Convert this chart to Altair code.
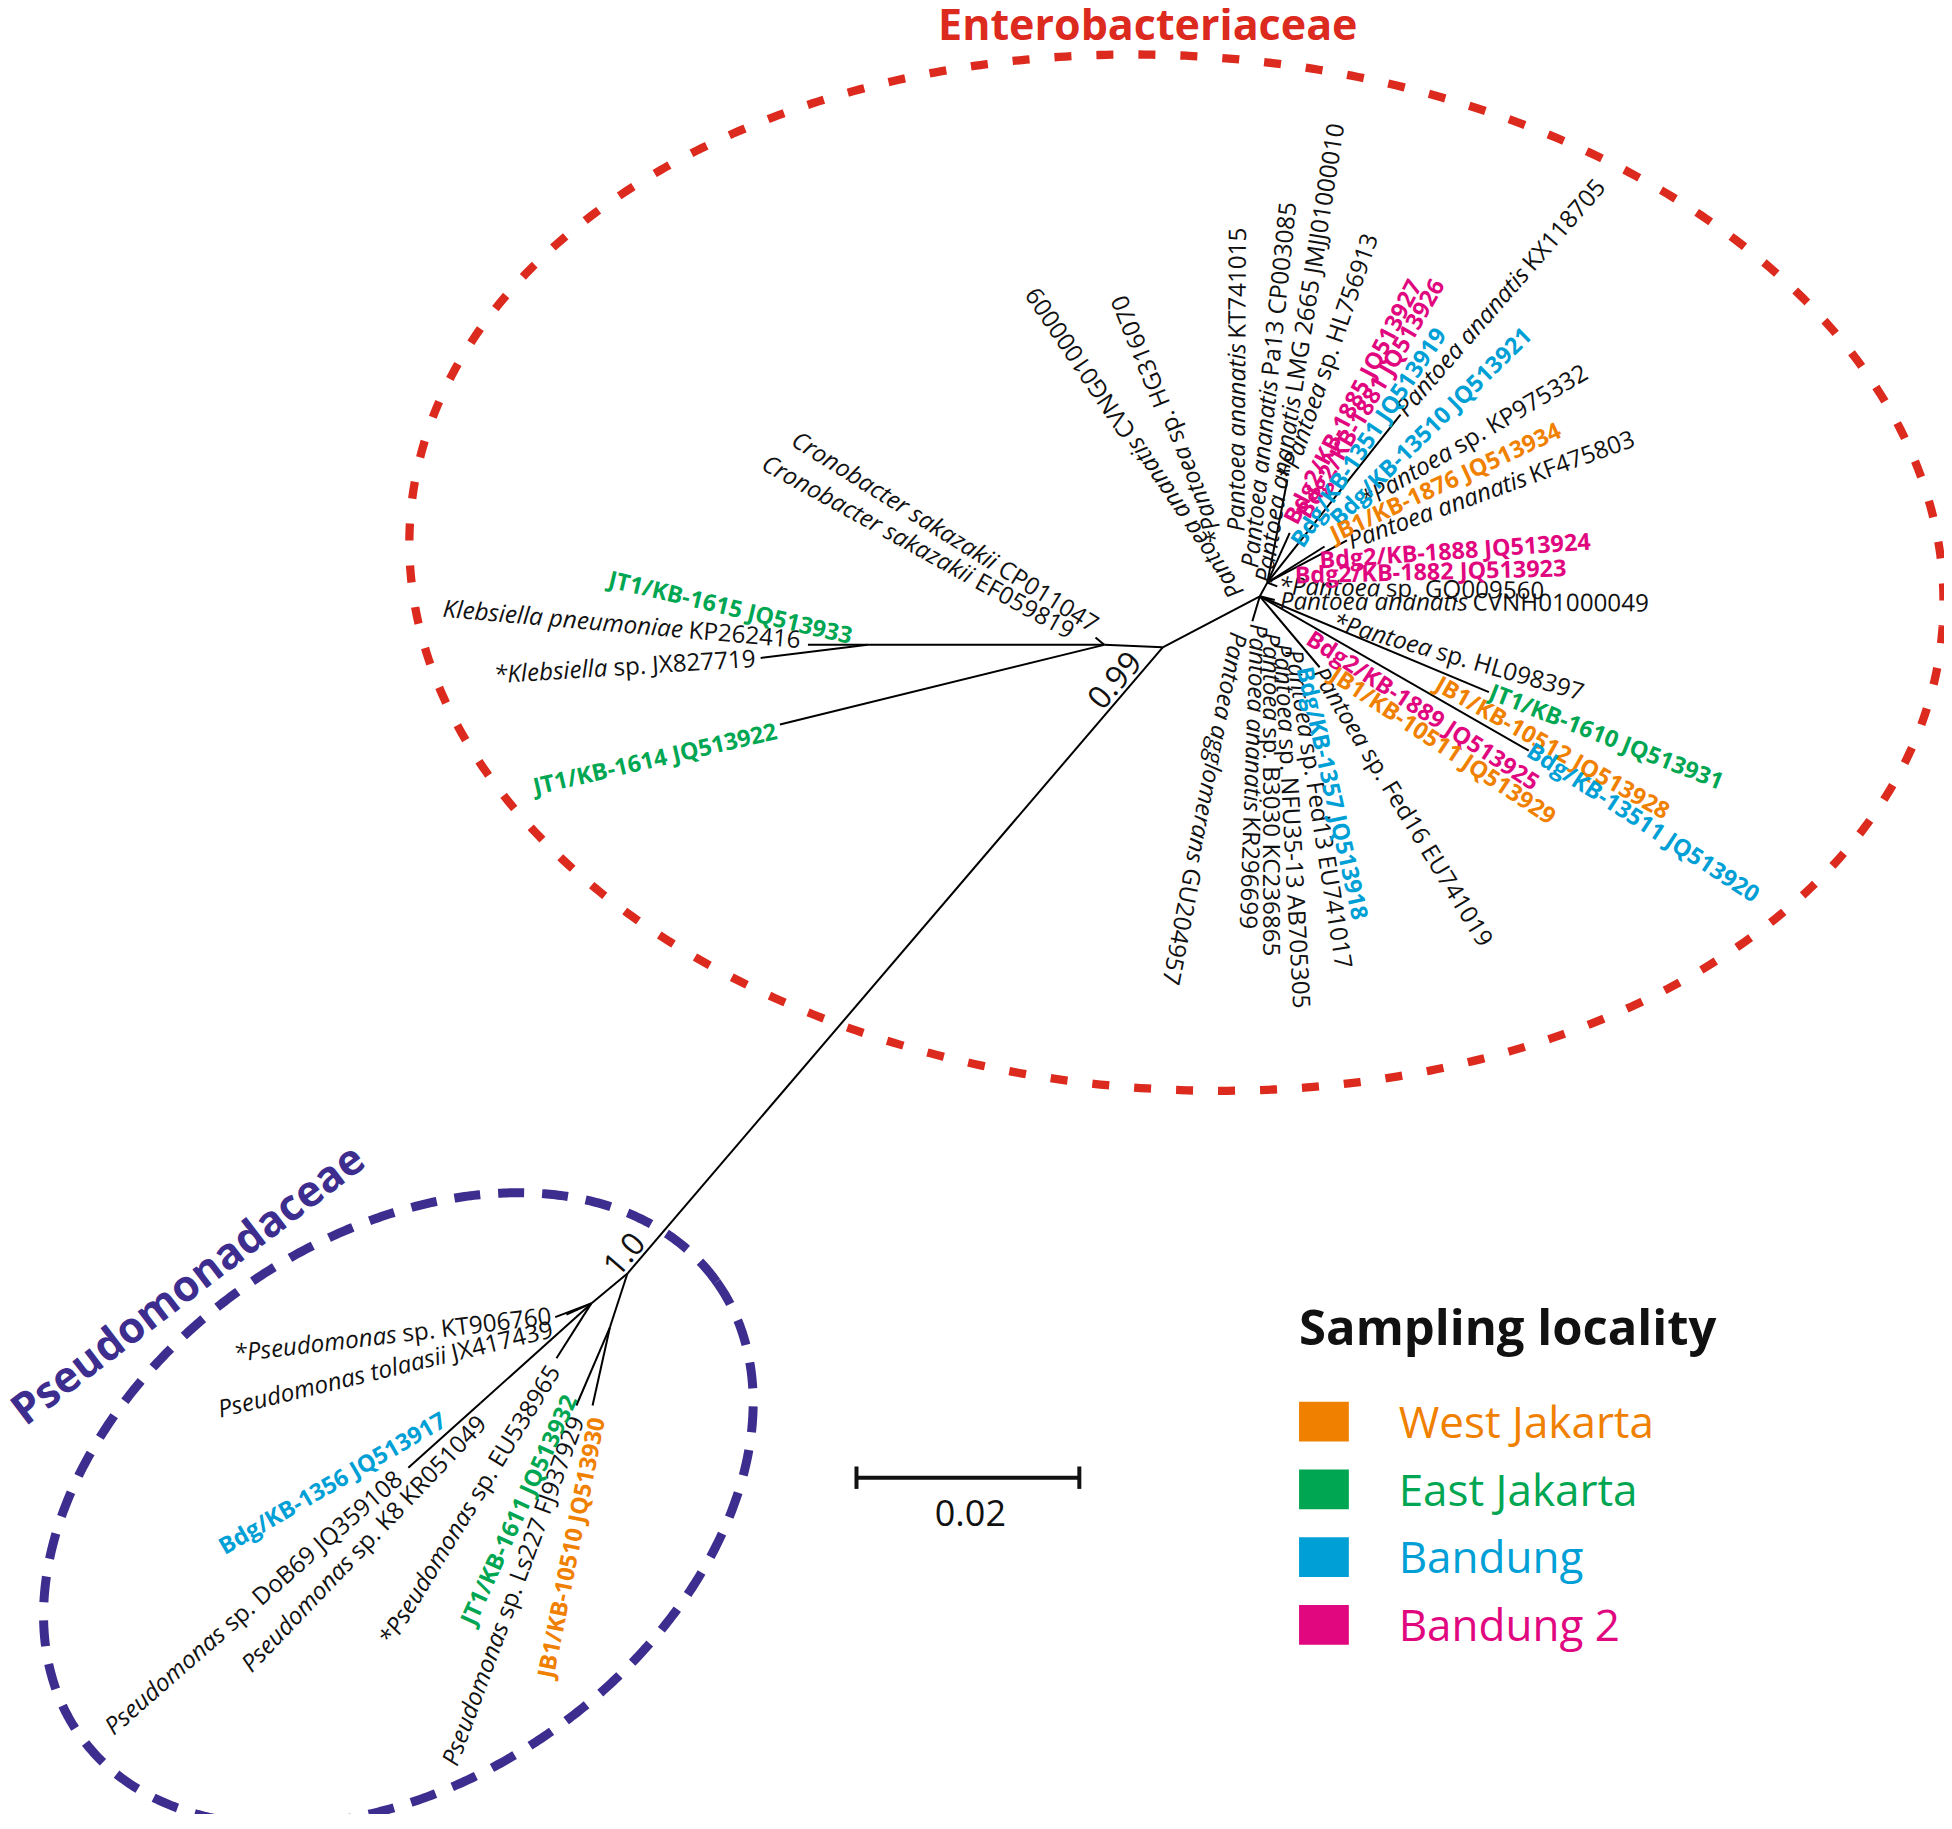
import math
import altair as alt
import numpy as np
import pandas as pd

# ------------------------------------------------------------------
# Data (coordinates in reference units, 1568-wide)
# ------------------------------------------------------------------
node_id = ["N1", "K", "K2", "H", "U", "P0", "P1", "PF", "P2",
           "tCrono", "tKpneu", "tKsp", "tJT1614",
           "tHL756913", "t1885", "tKX118705", "tKF475803", "t1888", "tGQ", "tCVNH",
           "tJT1610", "t13511", "tFed16", "tKR",
           "tKT906760", "tTol", "tDoB69", "tEU538965", "tFJ937929", "tJB10510"]
node_x = [934, 887, 697, 1012, 1018, 504, 475, 386, 490,
          880, 649, 611, 626.5,
          1034, 1036, 1125, 1082, 1064, 1026, 1024,
          1196, 1228, 1060, 1006,
          446, 455, 328, 447, 463, 476]
node_y = [520, 518, 518, 479, 468, 1023, 1047, 1127, 1066,
          512, 518, 528.5, 582,
          386, 428, 333, 434, 439, 471, 482,
          556, 603, 536, 499,
          1058, 1056, 1179, 1091, 1129, 1129]

edge_from = ["P0", "N1", "N1", "K", "K", "K2", "K2", "K",
             "H", "U", "U", "U", "U", "U", "U",
             "H", "H", "H", "H", "H",
             "P0", "P1", "P1", "P1", "PF", "P1", "P0", "P2", "P2"]
edge_to = ["N1", "K", "H", "tCrono", "K2", "tKpneu", "tKsp", "tJT1614",
           "U", "tHL756913", "t1885", "tKX118705", "tKF475803", "t1888", "tGQ",
           "tCVNH", "tJT1610", "t13511", "tFed16", "tKR",
           "P1", "tKT906760", "tTol", "PF", "tDoB69", "tEU538965", "P2", "tFJ937929", "tJB10510"]

label_text = [
    "Pantoea ananatis CVNG01000009", "*Pantoea sp. HG316070", "Pantoea ananatis KT741015",
    "Pantoea ananatis Pa13 CP003085", "Pantoea ananatis LMG 2665 JMJJ01000010", "*Pantoea sp. HL756913",
    "Bdg2/KB-1885 JQ513927", "Bdg2/KB-1881 JQ513926", "Bdg/KB-1351 JQ513919",
    "Pantoea ananatis KX118705", "Bdg/KB-13510 JQ513921", "*Pantoea sp. KP975332",
    "JB1/KB-1876 JQ513934", "Pantoea ananatis KF475803", "Bdg2/KB-1888 JQ513924",
    "Bdg2/KB-1882 JQ513923", "*Pantoea sp. GQ009560", "Pantoea ananatis CVNH01000049",
    "*Pantoea sp. HL098397", "JT1/KB-1610 JQ513931", "JB1/KB-10512 JQ513928",
    "Bdg/KB-13511 JQ513920", "Bdg2/KB-1889 JQ513925", "JB1/KB-10511 JQ513929",
    "Pantoea sp. Fed16 EU741019", "Bdg/KB-1357 JQ513918", "Pantoea sp. Fed13 EU741017",
    "Pantoea sp. NFU35-13 AB705305", "Pantoea sp. B3030 KC236865", "Pantoea ananatis KR296699",
    "Pantoea agglomerans GU204957",
    "Cronobacter sakazakii CP011047", "Cronobacter sakazakii EF059819", "JT1/KB-1615 JQ513933",
    "Klebsiella pneumoniae KP262416", "*Klebsiella sp. JX827719", "JT1/KB-1614 JQ513922",
    "*Pseudomonas sp. KT906760", "Pseudomonas tolaasii JX417439", "Bdg/KB-1356 JQ513917",
    "Pseudomonas sp. DoB69 JQ359108", "Pseudomonas sp. K8 KR051049", "*Pseudomonas sp. EU538965",
    "JT1/KB-1611 JQ513932", "Pseudomonas sp. Ls227 FJ937929", "JB1/KB-10510 JQ513930",
]
label_italic = [
    "Pantoea ananatis", "*Pantoea", "Pantoea ananatis",
    "Pantoea ananatis", "Pantoea ananatis", "*Pantoea",
    "", "", "",
    "Pantoea ananatis", "", "*Pantoea",
    "", "Pantoea ananatis", "",
    "", "*Pantoea", "Pantoea ananatis",
    "*Pantoea", "", "",
    "", "", "",
    "Pantoea", "", "Pantoea",
    "Pantoea", "Pantoea", "Pantoea ananatis",
    "Pantoea agglomerans",
    "Cronobacter sakazakii", "Cronobacter sakazakii", "",
    "Klebsiella pneumoniae", "*Klebsiella", "",
    "*Pseudomonas", "Pseudomonas tolaasii", "",
    "Pseudomonas", "Pseudomonas", "*Pseudomonas",
    "", "Pseudomonas", "",
]
label_group = [
    "ref", "ref", "ref", "ref", "ref", "ref",
    "bandung2", "bandung2", "bandung",
    "ref", "bandung", "ref",
    "west", "ref", "bandung2",
    "bandung2", "ref", "ref",
    "ref", "east", "west",
    "bandung", "bandung2", "west",
    "ref", "bandung", "ref",
    "ref", "ref", "ref",
    "ref",
    "ref", "ref", "east",
    "ref", "ref", "east",
    "ref", "ref", "bandung",
    "ref", "ref", "ref",
    "east", "ref", "west",
]
label_x = [995, 979, 994, 1005, 1016, 1034,
           1037, 1047, 1042,
           1126, 1072, 1095,
           1070, 1084, 1060,
           1040, 1027, 1028,
           1071, 1197, 1154,
           1228, 1051, 1070,
           1058, 1047, 1038,
           1029, 1020, 1010,
           994,
           880, 861, 684,
           643, 607, 624,
           443, 444, 357,
           321, 388, 446,
           459, 464.5, 480.5]
label_y = [478, 435, 427, 456, 468, 386,
           420, 415, 438,
           332, 420, 404,
           431, 436, 451,
           463, 472, 484,
           500, 556, 549,
           602, 512, 541,
           538, 536, 522,
           517, 508, 501,
           508,
           504, 509, 512,
           515, 530, 588,
           1058, 1068.5, 1140,
           1186, 1141, 1099,
           1122, 1139, 1139]
label_angle = [236, 248, 270.3, 276, 279, 289,
               297.5, 300, 304,
               311, 315.5, 329.5,
               335, 340, 356,
               358.5, 1, 0.3,
               16, 21.5, 29.5,
               33, 33, 33.5,
               58.5, 77.5, 81,
               87, 90, 92,
               101,
               32, 29, 13.3,
               5, 356.4, 347,
               353.2, 346.4, 329.8,
               318.8, 313.6, 301.5,
               294.4, 290.2, 281.2]
label_side = ["start"] * 31 + ["end"] * 15

support_text = ["0.99", "1.0"]
support_x = [896, 502]
support_y = [547, 1008]
support_angle = [310.5, 310.5]

family_text = ["Enterobacteriaceae", "Pseudomonadaceae"]
family_x = [922, 158]
family_y = [32.5, 1041]
family_angle = [0, 322.6]
family_color = ["#DC2A1E", "#3C2D8F"]

legend_title = "Sampling locality"
legend_names = ["West Jakarta", "East Jakarta", "Bandung", "Bandung 2"]
legend_keys = ["west", "east", "bandung", "bandung2"]
group_color = {"ref": "#111111", "west": "#F08000", "east": "#00A651",
               "bandung": "#00A0D6", "bandung2": "#E0077F"}

scale_value = "0.02"
scale_len = 179          # length of 0.02 substitutions/site in reference units

# ------------------------------------------------------------------
# Layout
# ------------------------------------------------------------------
R = 1952 / 1568
W, H = 1936, 1806
X0 = 8 / R
Y0 = 8 / R
xs = alt.Scale(domain=[X0, X0 + W / R], nice=False, zero=False)
ys = alt.Scale(domain=[Y0, Y0 + H / R], nice=False, zero=False, reverse=True)
FONT = "Open Sans"
LBL = 24.2       # regular / italic labels
LBLB = 23.4      # bold isolate labels

CW = {' ': .26, '*': .55, '.': .27, '-': .32, '/': .37, ',': .25}
for d in "0123456789":
    CW[d] = .57
CW.update({'a': .56, 'b': .61, 'c': .48, 'd': .61, 'e': .56, 'f': .34, 'g': .55, 'h': .61,
           'i': .26, 'j': .26, 'k': .53, 'l': .26, 'm': .93, 'n': .61, 'o': .6, 'p': .61,
           'q': .61, 'r': .41, 's': .48, 't': .36, 'u': .61, 'v': .5, 'w': .78, 'x': .52,
           'y': .5, 'z': .47,
           'A': .63, 'B': .65, 'C': .63, 'D': .73, 'E': .56, 'F': .52, 'G': .72, 'H': .74,
           'I': .29, 'J': .27, 'K': .6, 'L': .52, 'M': .9, 'N': .75, 'O': .78, 'P': .6,
           'Q': .78, 'R': .62, 'S': .55, 'T': .55, 'U': .73, 'V': .59, 'W': .93, 'X': .57,
           'Y': .55, 'Z': .56})


def tw(s, size, italic=False):
    w = sum(CW.get(c, .56) for c in s) * size
    return w * (0.95 if italic else 1.0)


rows = []
for i, txt in enumerate(label_text):
    x, y, a = label_x[i], label_y[i], label_angle[i] % 360
    th = math.radians(a)
    ux, uy = math.cos(th), math.sin(th)
    g = label_group[i]
    col = group_color[g]
    side = label_side[i]
    align = "left" if side == "start" else "right"
    if g != "ref":
        rows.append(dict(x=x, y=y, angle=a, text=txt, color=col, style="bold", align=align))
        continue
    ital = label_italic[i]
    rest = txt[len(ital):].strip()
    if side == "start":
        rows.append(dict(x=x, y=y, angle=a, text=ital, color=col, style="italic", align="left"))
        off = (tw(ital, LBL, True) + tw(" ", LBL)) / R
        rows.append(dict(x=x + off * ux, y=y + off * uy, angle=a, text=rest, color=col,
                         style="normal", align="left"))
    else:
        rows.append(dict(x=x, y=y, angle=a, text=rest, color=col, style="normal", align="right"))
        off = (tw(rest, LBL) + tw(" ", LBL)) / R
        rows.append(dict(x=x - off * ux, y=y - off * uy, angle=a, text=ital, color=col,
                         style="italic", align="right"))
lab = pd.DataFrame(rows)

pos = {n: (node_x[i], node_y[i]) for i, n in enumerate(node_id)}
edges = pd.DataFrame([dict(x=pos[a][0], y=pos[a][1], x2=pos[b][0], y2=pos[b][1])
                      for a, b in zip(edge_from, edge_to)])


def ellipse(cx, cy, a, b, phi_deg, n=720):
    t = np.linspace(0, 2 * np.pi, n + 1)
    p = math.radians(phi_deg)
    X = cx + a * np.cos(t) * math.cos(p) - b * np.sin(t) * math.sin(p)
    Y = cy + a * np.cos(t) * math.sin(p) + b * np.sin(t) * math.cos(p)
    return pd.DataFrame(dict(x=X, y=Y, i=np.arange(n + 1)))


ell_red = ellipse(945, 460, 617, 415, 4)
ell_pur = ellipse(320, 1212, 314, 217, -35.5)

X = lambda f="x": alt.X(f"{f}:Q", scale=xs, axis=None)
Y = lambda f="y": alt.Y(f"{f}:Q", scale=ys, axis=None)

layers = []
layers.append(alt.Chart(ell_red).mark_line(color="#DC2A1E", strokeWidth=8.3, strokeDash=[17, 25],
                                           strokeCap="butt").encode(x=X(), y=Y(), order="i:Q"))
layers.append(alt.Chart(ell_pur).mark_line(color="#3C2D8F", strokeWidth=9, strokeDash=[26, 18],
                                           strokeCap="butt").encode(x=X(), y=Y(), order="i:Q"))
layers.append(alt.Chart(edges).mark_rule(color="#000000", strokeWidth=2).encode(
    x=X(), y=Y(), x2="x2:Q", y2="y2:Q"))

for style in ["italic", "normal", "bold"]:
    for align in ["left", "right"]:
        d = lab[(lab["style"] == style) & (lab["align"] == align)]
        if len(d) == 0:
            continue
        kw = dict(font=FONT, fontSize=LBL, align=align, baseline="middle")
        if style == "italic":
            kw["fontStyle"] = "italic"
        if style == "bold":
            kw["fontWeight"] = "bold"
            kw["fontSize"] = LBLB
        layers.append(alt.Chart(d).mark_text(**kw).encode(
            x=X(), y=Y(), text="text:N", angle=alt.Angle("angle:Q", scale=None),
            color=alt.Color("color:N", scale=None)))

sup = pd.DataFrame(dict(x=support_x, y=support_y, text=support_text, angle=support_angle))
layers.append(alt.Chart(sup).mark_text(font=FONT, fontSize=32, color="#111111",
                                       baseline="middle", align="center").encode(
    x=X(), y=Y(), text="text:N", angle=alt.Angle("angle:Q", scale=None)))

fam = pd.DataFrame(dict(x=family_x, y=family_y, text=family_text, angle=family_angle,
                        color=family_color))
layers.append(alt.Chart(fam).mark_text(font=FONT, fontSize=43, fontWeight="bold",
                                       baseline="alphabetic", align="center").encode(
    x=X(), y=Y(), text="text:N", angle=alt.Angle("angle:Q", scale=None),
    color=alt.Color("color:N", scale=None)))

# scale bar
sb_x0, sb_y = 688, 1187
sb = pd.DataFrame([dict(x=sb_x0, y=sb_y, x2=sb_x0 + scale_len, y2=sb_y),
                   dict(x=sb_x0, y=sb_y - 9, x2=sb_x0, y2=sb_y + 9),
                   dict(x=sb_x0 + scale_len, y=sb_y - 9, x2=sb_x0 + scale_len, y2=sb_y + 9)])
layers.append(alt.Chart(sb).mark_rule(color="#111111", strokeWidth=4).encode(
    x=X(), y=Y(), x2="x2:Q", y2="y2:Q"))
sbt = pd.DataFrame(dict(x=[sb_x0 + scale_len / 2 + 2], y=[sb_y + 30], text=[scale_value]))
layers.append(alt.Chart(sbt).mark_text(font=FONT, fontSize=36, color="#111111",
                                       baseline="middle", align="center").encode(
    x=X(), y=Y(), text="text:N"))

# legend
lg_x, lg_y0, lg_dy = 1043.5, 1142, 54.4
leg = pd.DataFrame(dict(
    x=[lg_x] * 4, x2=[lg_x + 40] * 4,
    y=[lg_y0 + k * lg_dy - 16 for k in range(4)], y2=[lg_y0 + k * lg_dy + 16 for k in range(4)],
    tx=[lg_x + 80] * 4, ty=[lg_y0 + k * lg_dy + 13 for k in range(4)],
    text=legend_names, color=[group_color[k] for k in legend_keys]))
layers.append(alt.Chart(leg).mark_rect().encode(
    x=X(), y=Y(), x2="x2:Q", y2="y2:Q", color=alt.Color("color:N", scale=None)))
layers.append(alt.Chart(leg).mark_text(font=FONT, fontSize=44, align="left",
                                       baseline="alphabetic").encode(
    x=X("tx"), y=Y("ty"), text="text:N", color=alt.Color("color:N", scale=None)))
lt = pd.DataFrame(dict(x=[lg_x], y=[1080.5], text=[legend_title]))
layers.append(alt.Chart(lt).mark_text(font=FONT, fontSize=49, fontWeight="bold", color="#111111",
                                      align="left", baseline="alphabetic").encode(
    x=X(), y=Y(), text="text:N"))

chart = alt.layer(*layers).properties(
    width=W, height=H, padding=0, autosize=alt.AutoSizeParams(type="none"),
    background="white"
).configure_view(stroke=None)

chart.save("out.html", embed_options={"renderer": "svg", "actions": False})
